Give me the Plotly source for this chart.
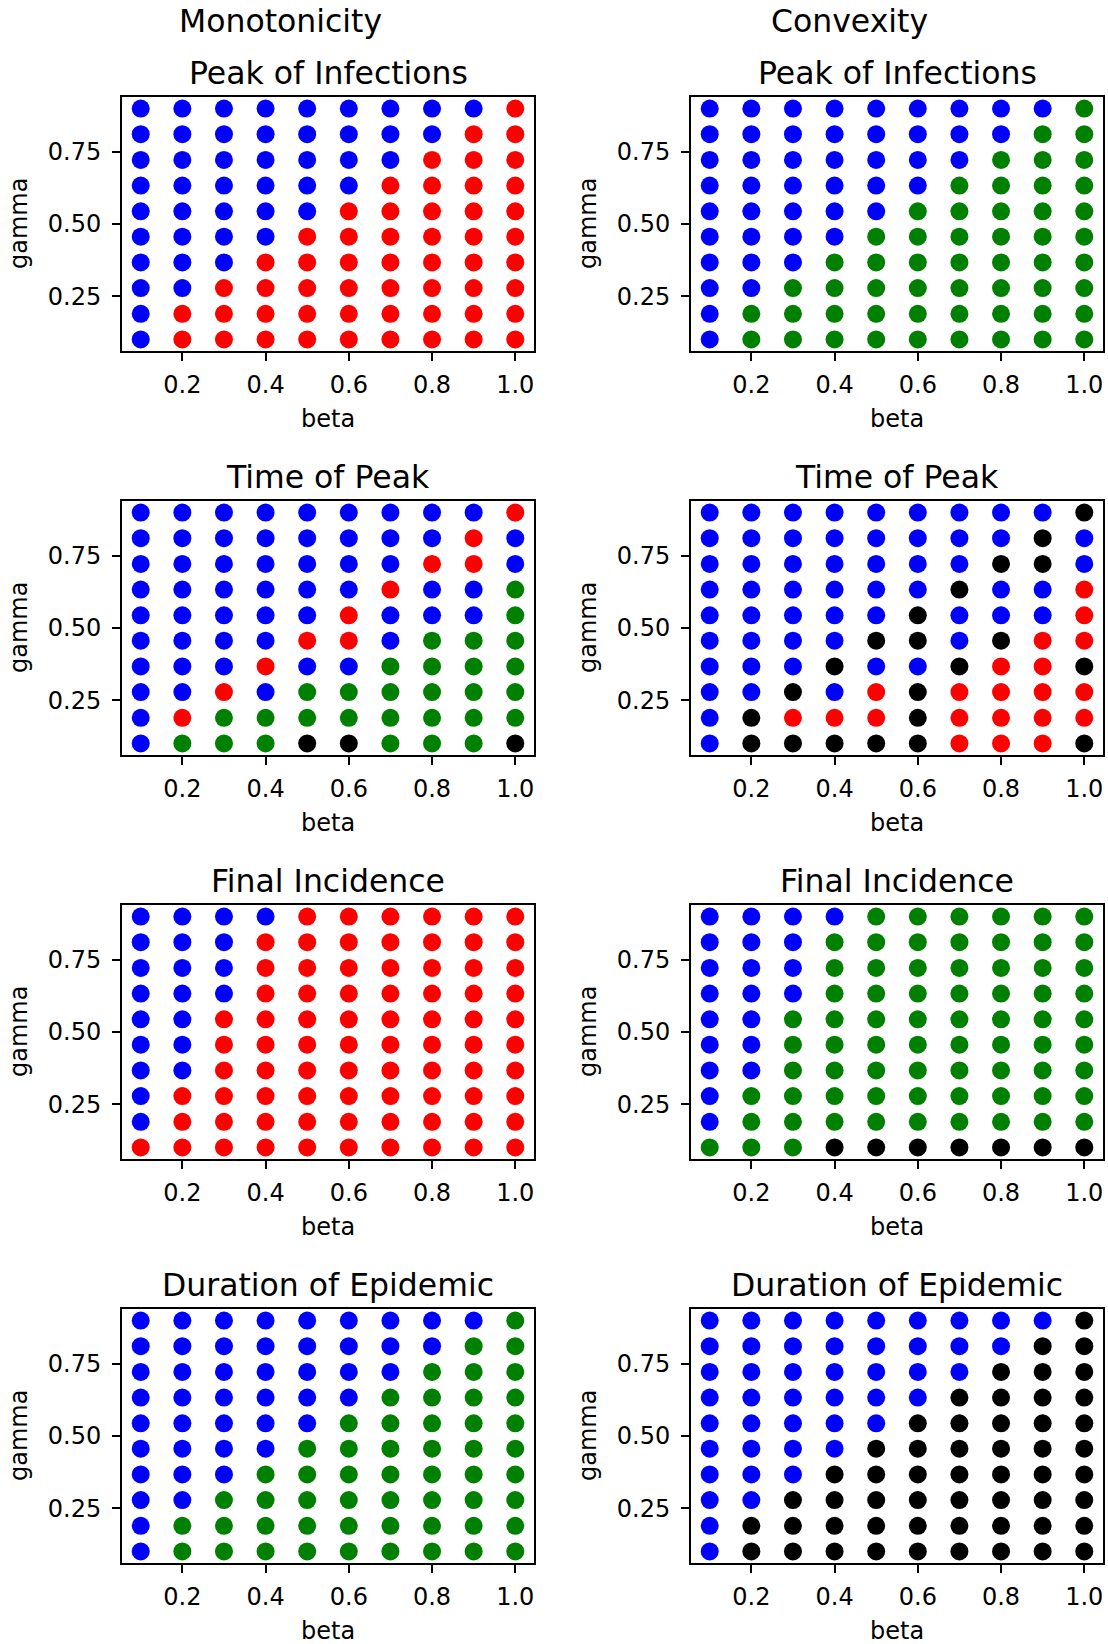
import plotly.graph_objects as go

# ---------------- data ----------------
beta = [0.1, 0.2, 0.3, 0.4, 0.5, 0.6, 0.7, 0.8, 0.9, 1.0]
gamma = [0.1, 0.189, 0.278, 0.367, 0.456, 0.544, 0.633, 0.722, 0.811, 0.9]

x_tickvals = [0.2, 0.4, 0.6, 0.8, 1.0]
x_ticktext = ["0.2", "0.4", "0.6", "0.8", "1.0"]
y_tickvals = [0.25, 0.5, 0.75]
y_ticktext = ["0.25", "0.50", "0.75"]

column_titles = ["Monotonicity", "Convexity"]
panel_titles = ["Peak of Infections", "Time of Peak", "Final Incidence", "Duration of Epidemic"]

# category codes per grid cell; each string is one gamma row, from gamma=0.9 (top) down to 0.1
# B = blue, R = red, G = green, K = black ; columns are beta 0.1 .. 1.0
mono_peak = [
    "BBBBBBBBBR",
    "BBBBBBBBRR",
    "BBBBBBBRRR",
    "BBBBBBRRRR",
    "BBBBBRRRRR",
    "BBBBRRRRRR",
    "BBBRRRRRRR",
    "BBRRRRRRRR",
    "BRRRRRRRRR",
    "BRRRRRRRRR",
]
conv_peak = [
    "BBBBBBBBBG",
    "BBBBBBBBGG",
    "BBBBBBBGGG",
    "BBBBBBGGGG",
    "BBBBBGGGGG",
    "BBBBGGGGGG",
    "BBBGGGGGGG",
    "BBGGGGGGGG",
    "BGGGGGGGGG",
    "BGGGGGGGGG",
]
mono_time = [
    "BBBBBBBBBR",
    "BBBBBBBBRB",
    "BBBBBBBRRB",
    "BBBBBBRBBG",
    "BBBBBRBBBG",
    "BBBBRRBGGG",
    "BBBRBBGGGG",
    "BBRBGGGGGG",
    "BRGGGGGGGG",
    "BGGGKKGGGK",
]
conv_time = [
    "BBBBBBBBBK",
    "BBBBBBBBKB",
    "BBBBBBBKKB",
    "BBBBBBKBBR",
    "BBBBBKBBBR",
    "BBBBKKBKRR",
    "BBBKBBKRRK",
    "BBKBRKRRRR",
    "BKRRRKRRRR",
    "BKKKKKRRRK",
]
mono_final = [
    "BBBBRRRRRR",
    "BBBRRRRRRR",
    "BBBRRRRRRR",
    "BBBRRRRRRR",
    "BBRRRRRRRR",
    "BBRRRRRRRR",
    "BBRRRRRRRR",
    "BRRRRRRRRR",
    "BRRRRRRRRR",
    "RRRRRRRRRR",
]
conv_final = [
    "BBBBGGGGGG",
    "BBBGGGGGGG",
    "BBBGGGGGGG",
    "BBBGGGGGGG",
    "BBGGGGGGGG",
    "BBGGGGGGGG",
    "BBGGGGGGGG",
    "BGGGGGGGGG",
    "BGGGGGGGGG",
    "GGGKKKKKKK",
]
mono_duration = [
    "BBBBBBBBBG",
    "BBBBBBBBGG",
    "BBBBBBBGGG",
    "BBBBBBGGGG",
    "BBBBBGGGGG",
    "BBBBGGGGGG",
    "BBBGGGGGGG",
    "BBGGGGGGGG",
    "BGGGGGGGGG",
    "BGGGGGGGGG",
]
conv_duration = [
    "BBBBBBBBBK",
    "BBBBBBBBKK",
    "BBBBBBBKKK",
    "BBBBBBKKKK",
    "BBBBBKKKKK",
    "BBBBKKKKKK",
    "BBBKKKKKKK",
    "BBKKKKKKKK",
    "BKKKKKKKKK",
    "BKKKKKKKKK",
]

# ---------------- styling ----------------
COLOR = {"B": "#0000ff", "R": "#ff0000", "G": "#008000", "K": "#000000"}
W, H = 1108, 1644
FONT = "DejaVu Sans"
TICK_FS = 24
TITLE_FS = 31.5

panels = [
    [mono_peak, conv_peak],
    [mono_time, conv_time],
    [mono_final, conv_final],
    [mono_duration, conv_duration],
]

col_left = [122, 691]
panel_w = 412
row_top = [97, 501, 905, 1309]
panel_h = 254


def px_x(p):
    return p / W


def px_y(p):
    return 1 - p / H


fig = go.Figure()
annotations = []
layout_axes = {}

k = 0
for r in range(4):
    for c in range(2):
        k += 1
        grid = panels[r][c]
        xs, ys, cols = [], [], []
        n = len(grid)
        for ri, row in enumerate(grid):
            g = gamma[n - 1 - ri]
            for ci, ch in enumerate(row):
                xs.append(beta[ci])
                ys.append(g)
                cols.append(COLOR[ch])
        xa = "x" if k == 1 else f"x{k}"
        ya = "y" if k == 1 else f"y{k}"
        fig.add_trace(go.Scatter(
            x=xs, y=ys, mode="markers", xaxis=xa, yaxis=ya,
            marker=dict(size=18, color=cols, line=dict(width=0)),
            showlegend=False, hoverinfo="skip",
        ))
        L = col_left[c]
        T = row_top[r]
        xdom = [px_x(L), px_x(L + panel_w)]
        ydom = [px_y(T + panel_h), px_y(T)]
        axis_common = dict(
            showgrid=False, zeroline=False, showline=True, mirror=True,
            linecolor="black", linewidth=2, ticks="outside", ticklen=8,
            tickwidth=2, tickcolor="black", automargin=False,
            tickfont=dict(family=FONT, size=TICK_FS, color="black"),
        )
        layout_axes["xaxis" if k == 1 else f"xaxis{k}"] = dict(
            domain=xdom, range=[0.055, 1.045], anchor=ya, ticklabelstandoff=3,
            tickvals=x_tickvals, ticktext=x_ticktext, **axis_common)
        layout_axes["yaxis" if k == 1 else f"yaxis{k}"] = dict(
            domain=ydom, range=[0.06, 0.94], anchor=xa, ticklabelstandoff=6,
            tickvals=y_tickvals, ticktext=y_ticktext, **axis_common)
        # panel title
        annotations.append(dict(
            text=panel_titles[r], xref="paper", yref="paper",
            x=px_x(L + panel_w / 2), y=px_y(T - 24), xanchor="center", yanchor="middle",
            showarrow=False, font=dict(family=FONT, size=TITLE_FS, color="black")))
        # x axis label
        annotations.append(dict(
            text="beta", xref="paper", yref="paper",
            x=px_x(L + panel_w / 2), y=px_y(T + panel_h + 68), xanchor="center", yanchor="middle",
            showarrow=False, font=dict(family=FONT, size=TICK_FS, color="black")))
        # y axis label
        annotations.append(dict(
            text="gamma", xref="paper", yref="paper", textangle=-90,
            x=px_x(L - 103), y=px_y(T + panel_h / 2), xanchor="center", yanchor="middle",
            showarrow=False, font=dict(family=FONT, size=TICK_FS, color="black")))

# column super titles
for c, cx in enumerate([280, 849]):
    annotations.append(dict(
        text=column_titles[c], xref="paper", yref="paper",
        x=px_x(cx), y=px_y(21), xanchor="center", yanchor="middle",
        showarrow=False, font=dict(family=FONT, size=TITLE_FS, color="black")))

fig.update_layout(
    width=W, height=H, margin=dict(l=0, r=0, t=0, b=0),
    paper_bgcolor="white", plot_bgcolor="white",
    annotations=annotations, showlegend=False,
    font=dict(family=FONT, color="black"),
    **layout_axes,
)

fig.write_html(
    "out.html",
    config={"displayModeBar": False},
    post_script="document.body.style.margin='0';document.body.style.overflow='hidden';",
)
